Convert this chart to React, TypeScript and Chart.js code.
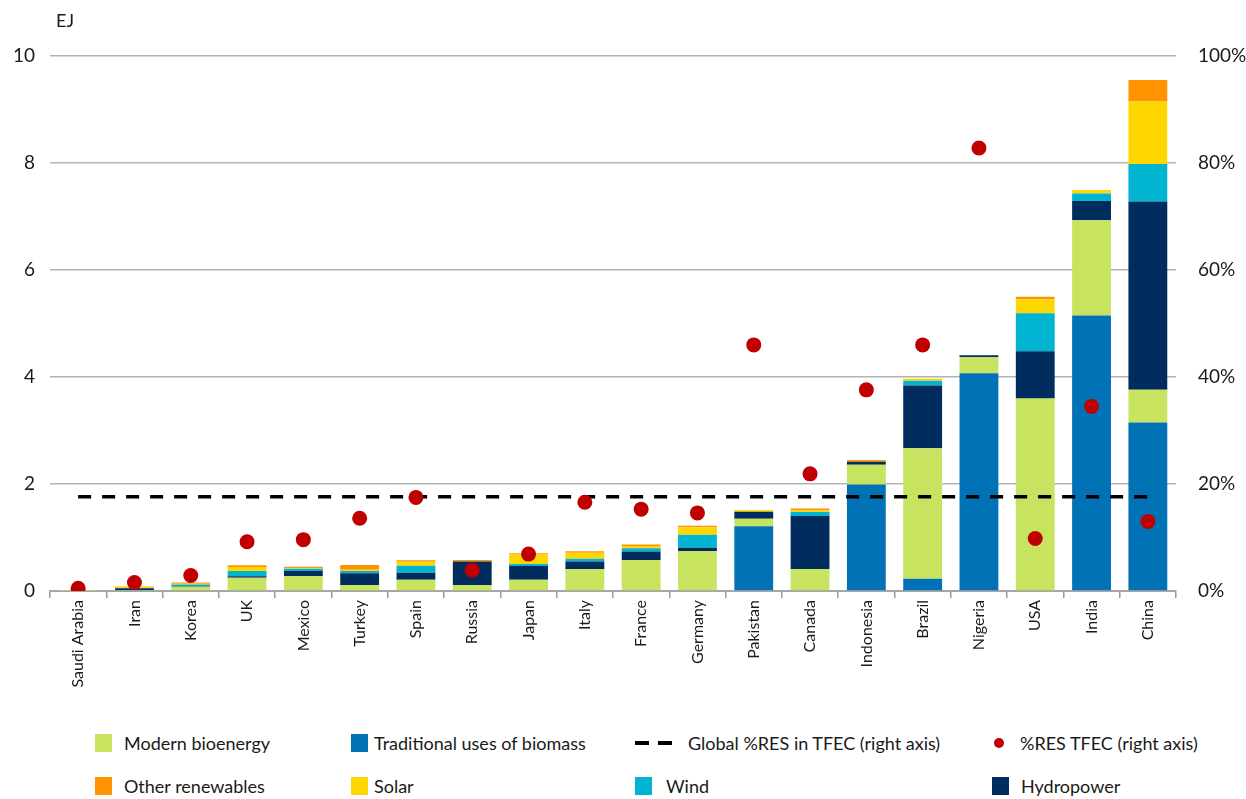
import React, { useEffect, useRef } from 'react';
import { Chart, registerables } from 'chart.js';

Chart.register(...registerables);

const countries = ['Saudi Arabia', 'Iran', 'Korea', 'UK', 'Mexico', 'Turkey', 'Spain', 'Russia', 'Japan', 'Italy', 'France', 'Germany', 'Pakistan', 'Canada', 'Indonesia', 'Brazil', 'Nigeria', 'USA', 'India', 'China'];

const traditionalBiomass = [0, 0.01, 0, 0, 0, 0, 0, 0, 0, 0, 0, 0, 1.21, 0, 1.99, 0.23, 4.07, 0, 5.15, 3.15];
const modernBioenergy = [0.005, 0.01, 0.08, 0.25, 0.28, 0.11, 0.21, 0.11, 0.21, 0.41, 0.58, 0.75, 0.14, 0.41, 0.37, 2.44, 0.3, 3.6, 1.78, 0.61];
const hydropower = [0, 0.03, 0.01, 0.025, 0.095, 0.22, 0.13, 0.44, 0.255, 0.14, 0.16, 0.06, 0.13, 0.99, 0.055, 1.17, 0.035, 0.88, 0.36, 3.52];
const wind = [0, 0.005, 0.03, 0.1, 0.04, 0.045, 0.13, 0, 0.04, 0.055, 0.06, 0.24, 0, 0.075, 0, 0.09, 0, 0.71, 0.14, 0.7];
const solar = [0, 0.03, 0.015, 0.075, 0.01, 0.02, 0.075, 0, 0.175, 0.11, 0.04, 0.14, 0.035, 0.03, 0, 0.035, 0, 0.26, 0.065, 1.17];
const otherRenewables = [0, 0.005, 0.025, 0.03, 0.03, 0.09, 0.03, 0.03, 0.025, 0.03, 0.03, 0.03, 0, 0.035, 0.035, 0, 0, 0.05, 0, 0.4];

const resShareTFEC = [0.5, 1.6, 2.9, 9.2, 9.6, 13.6, 17.5, 3.9, 6.9, 16.6, 15.3, 14.6, 46, 21.9, 37.6, 46, 82.8, 9.8, 34.5, 13.0];
const globalResShare = [17.6, 17.6, 17.6, 17.6, 17.6, 17.6, 17.6, 17.6, 17.6, 17.6, 17.6, 17.6, 17.6, 17.6, 17.6, 17.6, 17.6, 17.6, 17.6, 17.6];

const leftTicks = [0, 2, 4, 6, 8, 10];
const rightTicks = [0, 20, 40, 60, 80, 100];

const C = {
  modern: '#C8E35F',
  traditional: '#0072B5',
  hydro: '#002D5E',
  wind: '#00B4D2',
  solar: '#FFD700',
  other: '#FF9400',
  dot: '#C00000',
};

const FONT = 'Lato, "Open Sans", sans-serif';
const TEXT = '#1a1a1a';

export default function App() {
  const ref = useRef<HTMLCanvasElement>(null);

  useEffect(() => {
    const bar = (label: string, data: number[], color: string) => ({
      type: 'bar' as const,
      label,
      data,
      backgroundColor: color,
      borderWidth: 0,
      yAxisID: 'y',
      stack: 's',
      order: 2,
      barPercentage: 0.69,
      categoryPercentage: 1,
    });
    const chart = new Chart(ref.current!, {
      type: 'bar',
      data: {
        labels: countries,
        datasets: [
          {
            type: 'line',
            label: '%RES TFEC (right axis)',
            data: resShareTFEC,
            yAxisID: 'y2',
            showLine: false,
            pointRadius: 7.5,
            pointBackgroundColor: C.dot,
            pointBorderWidth: 0,
            order: 0,
          } as any,
          {
            type: 'line',
            label: 'Global %RES in TFEC (right axis)',
            data: globalResShare,
            yAxisID: 'y2',
            borderColor: '#000',
            borderWidth: 3.5,
            borderDash: [13, 11],
            pointRadius: 0,
            order: 1,
          } as any,
          bar('Traditional uses of biomass', traditionalBiomass, C.traditional),
          bar('Modern bioenergy', modernBioenergy, C.modern),
          bar('Hydropower', hydropower, C.hydro),
          bar('Wind', wind, C.wind),
          bar('Solar', solar, C.solar),
          bar('Other renewables', otherRenewables, C.other),
        ],
      },
      options: {
        responsive: false,
        animation: false,
        layout: { padding: { top: 56, left: 0, right: 0, bottom: 0 } },
        plugins: { legend: { display: false }, tooltip: { enabled: false } },
        scales: {
          x: {
            stacked: true,
            offset: true,
            grid: { offset: true, drawOnChartArea: false, drawTicks: true, tickLength: 7, color: '#9a9a9a', lineWidth: 1.5 },
            border: { display: true, color: '#a6a6a6', width: 2 },
            ticks: {
              minRotation: 90,
              maxRotation: 90,
              autoSkip: false,
              padding: 2,
              color: TEXT,
              font: { family: FONT, size: 16 },
            },
            afterFit: (s: any) => { s.height = 700 - 591; },
          },
          y: {
            stacked: true,
            position: 'left',
            min: 0,
            max: 10,
            afterBuildTicks: (s: any) => { s.ticks = leftTicks.map((v) => ({ value: v })); },
            grid: { color: '#b3b3b3', lineWidth: 1.5, drawTicks: false },
            border: { display: false },
            ticks: { padding: 15, color: TEXT, font: { family: FONT, size: 19 } },
            afterFit: (s: any) => { s.width = 50; },
          },
          y2: {
            position: 'right',
            min: 0,
            max: 100,
            afterBuildTicks: (s: any) => { s.ticks = rightTicks.map((v) => ({ value: v })); },
            grid: { display: false, drawOnChartArea: false },
            border: { display: false },
            ticks: { padding: 14, color: TEXT, font: { family: FONT, size: 19 }, callback: (v: any) => v + '%' },
            afterFit: (s: any) => { s.width = 1246 - 1176; },
          },
        },
      } as any,
    });
    return () => chart.destroy();
  }, []);

  const text: React.CSSProperties = { position: 'absolute', fontFamily: FONT, fontSize: 18, color: TEXT, lineHeight: '24px', whiteSpace: 'nowrap' };
  const sq = (x: number, y: number, color: string) => (
    <div style={{ position: 'absolute', left: x, top: y, width: 17, height: 18, background: color }} />
  );

  const r1 = 743;
  const r2 = 786;

  return (
    <div style={{ position: 'absolute', left: 0, top: 0, width: 1246, height: 799, background: '#fff', overflow: 'hidden' }}>
      <canvas ref={ref} width={1246} height={700} style={{ position: 'absolute', left: 0, top: 0, display: 'block' }} />
      <div style={{ ...text, left: 56, top: 8 }}>EJ</div>

      {sq(95, r1 - 9, C.modern)}
      <div style={{ ...text, left: 124, top: r1 - 12 }}>Modern bioenergy</div>
      {sq(351, r1 - 9, C.traditional)}
      <div style={{ ...text, left: 374, top: r1 - 12 }}>Traditional uses of biomass</div>
      <div style={{ position: 'absolute', left: 635, top: r1 - 2, width: 14, height: 4, background: '#000' }} />
      <div style={{ position: 'absolute', left: 658, top: r1 - 2, width: 14, height: 4, background: '#000' }} />
      <div style={{ ...text, left: 688, top: r1 - 12 }}>Global %RES in TFEC (right axis)</div>
      <div style={{ position: 'absolute', left: 994, top: r1 - 5, width: 10, height: 10, borderRadius: 5, background: C.dot }} />
      <div style={{ ...text, left: 1020, top: r1 - 12 }}>%RES TFEC (right axis)</div>

      {sq(95, r2 - 9, C.other)}
      <div style={{ ...text, left: 124, top: r2 - 12 }}>Other renewables</div>
      {sq(351, r2 - 9, C.solar)}
      <div style={{ ...text, left: 374, top: r2 - 12 }}>Solar</div>
      {sq(635, r2 - 9, C.wind)}
      <div style={{ ...text, left: 666, top: r2 - 12 }}>Wind</div>
      {sq(992, r2 - 9, C.hydro)}
      <div style={{ ...text, left: 1021, top: r2 - 12 }}>Hydropower</div>
    </div>
  );
}
